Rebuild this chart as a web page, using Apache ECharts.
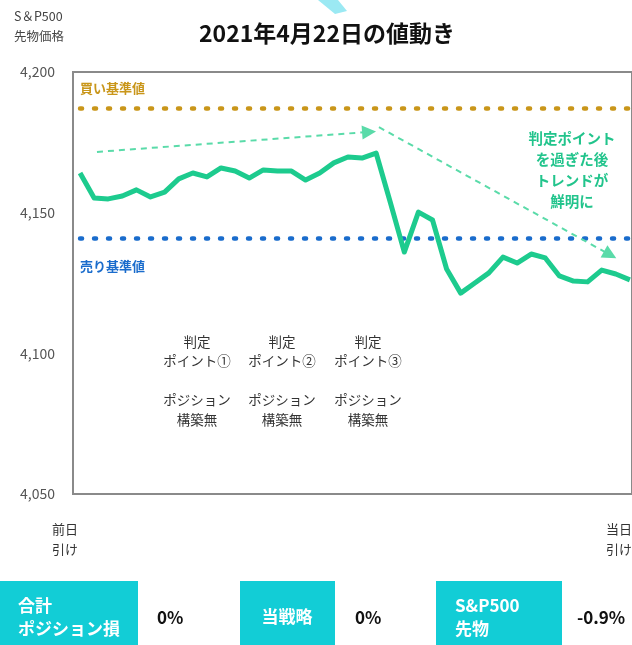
<!DOCTYPE html>
<html>
<head>
<meta charset="utf-8">
<script src="https://cdn.jsdelivr.net/npm/echarts@6/dist/echarts.min.js"></script>
<style>
  html, body { margin: 0; padding: 0; background: #fff; }
  #chart { width: 632px; height: 645px; }
</style>
</head>
<body>
<div id="chart"></div>
<script>
// S&P500 futures, 2021-04-22
const prices = [
  4164.1, 4155.2, 4154.9, 4155.9, 4158.1, 4155.6, 4157.3, 4162.0, 4164.1, 4162.7,
  4165.9, 4164.8, 4162.3, 4165.2, 4164.8, 4164.8, 4161.6, 4164.1, 4167.7, 4169.8,
  4169.4, 4171.2, 4153.8, 4136.0, 4150.2, 4147.4, 4130.0, 4121.4, 4125.0, 4128.6,
  4134.2, 4132.1, 4135.3, 4133.9, 4127.5, 4125.7, 4125.4, 4129.6, 4128.2, 4126.1
];
const buyLevel = 4187;
const sellLevel = 4141;
const yTicks = [4050, 4100, 4150, 4200];
const yTickLabels = ['4,050', '4,100', '4,150', '4,200'];
const xEndLabels = ['前日\n引け', '当日\n引け'];
const judgeLabels = ['判定\nポイント①\n\nポジション\n構築無', '判定\nポイント②\n\nポジション\n構築無', '判定\nポイント③\n\nポジション\n構築無'];
const summaryLabels = ['合計\nポジション損', '当戦略', 'S&P500\n先物'];
const summaryValues = ['0%', '0%', '-0.9%'];

const FONT = '"Noto Sans CJK JP", "Noto Sans", sans-serif';
const GREEN = '#1DCB8E';
const GOLD = '#C9961A';
const BLUE = '#1A6CCC';
const TEAL = '#12CDD6';

const chart = echarts.init(document.getElementById('chart'));

const dotted = (color) => ({ color: color, width: 4.5, type: [2, 12], cap: 'round' });
const arrowStyle = { color: '#5ADBA9', width: 2, type: [6, 5] };

const boxes = [
  { x: 0, w: 138, tx: 18, align: 'left', vx: 157 },
  { x: 240, w: 95, tx: 287, align: 'center', vx: 355 },
  { x: 436, w: 126, tx: 455, align: 'left', vx: 577 }
];

const graphics = [
  { type: 'polygon', shape: { points: [[318, 0], [338, 0], [347, 11], [335, 14]] }, style: { fill: '#9BE9F3' } },
  { type: 'text', x: 327, y: 33, style: { text: '2021年4月22日の値動き', font: 'bold 23px ' + FONT, fill: '#111', align: 'center', verticalAlign: 'middle' } },
  { type: 'text', x: 14, y: 6, style: { text: 'S＆P500\n先物価格', font: '12.5px ' + FONT, fill: '#444', lineHeight: 20 } },
  { type: 'text', x: 80, y: 88, style: { text: '買い基準値', font: 'bold 13px ' + FONT, fill: GOLD, verticalAlign: 'middle' } },
  { type: 'text', x: 80, y: 266, style: { text: '売り基準値', font: 'bold 13px ' + FONT, fill: BLUE, verticalAlign: 'middle' } },
  { type: 'text', x: 572, y: 128, style: { text: '判定ポイント\nを過ぎた後\nトレンドが\n鮮明に', font: 'bold 14.5px ' + FONT, fill: '#22C48C', align: 'center', lineHeight: 21 } },
  { type: 'text', x: 65, y: 519, style: { text: xEndLabels[0], font: '13px ' + FONT, fill: '#333', align: 'center', lineHeight: 20 } },
  { type: 'text', x: 619, y: 519, style: { text: xEndLabels[1], font: '13px ' + FONT, fill: '#333', align: 'center', lineHeight: 20 } }
];
[197, 282, 368].forEach((cx, i) => {
  graphics.push({ type: 'text', x: cx, y: 332, style: { text: judgeLabels[i], font: '13.5px ' + FONT, fill: '#333', align: 'center', lineHeight: 19.5 } });
});
boxes.forEach((b, i) => {
  graphics.push({ type: 'rect', shape: { x: b.x, y: 581, width: b.w, height: 70 }, style: { fill: TEAL } });
  graphics.push({ type: 'text', x: b.tx, y: 617, style: { text: summaryLabels[i], font: 'bold 17px ' + FONT, fill: '#fff', align: b.align, verticalAlign: 'middle', lineHeight: 23 } });
  graphics.push({ type: 'text', x: b.vx, y: 618, style: { text: summaryValues[i], font: 'bold 17px ' + FONT, fill: '#111', verticalAlign: 'middle' } });
});

const option = {
  animation: false,
  backgroundColor: '#fff',
  grid: {
    left: 73, right: -2, top: 72, bottom: 151,
    show: true, borderColor: '#8a8a8a', borderWidth: 2, containLabel: false
  },
  xAxis: {
    type: 'value', min: -0.5, max: 39.15,
    axisLine: { show: false }, axisTick: { show: false },
    axisLabel: { show: false }, splitLine: { show: false }
  },
  yAxis: {
    type: 'value', min: 4050, max: 4200, interval: 50,
    axisLine: { show: false }, axisTick: { show: false }, splitLine: { show: false },
    axisLabel: {
      margin: 18, color: '#555', fontSize: 14, fontFamily: FONT,
      formatter: (v) => yTickLabels[yTicks.indexOf(v)]
    }
  },
  series: [
    {
      type: 'line',
      data: prices.map((v, i) => [i, v]),
      showSymbol: false,
      lineStyle: { color: GREEN, width: 5, join: 'round' },
      z: 5,
      markLine: {
        silent: true, symbol: 'none', label: { show: false },
        data: [
          [{ coord: [0, buyLevel], lineStyle: dotted(GOLD) }, { coord: [39.15, buyLevel] }],
          [{ coord: [0, sellLevel], lineStyle: dotted(BLUE) }, { coord: [39.15, sellLevel] }]
        ]
      }
    },
    {
      type: 'line', data: [], z: 4,
      markLine: {
        silent: true, symbol: ['none', 'triangle'], symbolSize: 14,
        label: { show: false }, lineStyle: arrowStyle,
        data: [
          [{ coord: [1.2, 4171.6] }, { coord: [20.5, 4178.7] }],
          [{ coord: [21.2, 4180.4] }, { coord: [37.6, 4135.0] }]
        ]
      }
    }
  ],
  graphic: graphics
};

chart.setOption(option);
</script>
</body>
</html>
